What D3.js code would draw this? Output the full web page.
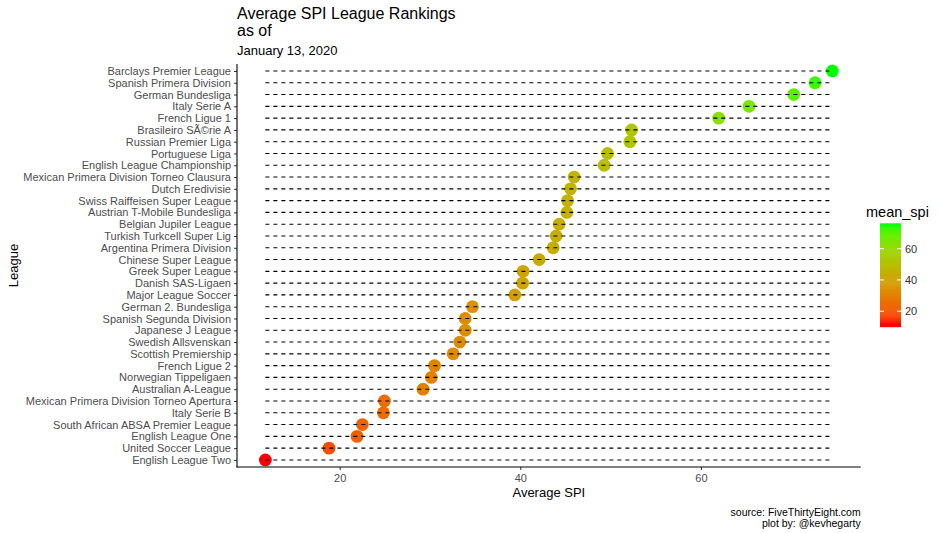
<!DOCTYPE html>
<html><head><meta charset="utf-8">
<script src="https://cdn.jsdelivr.net/npm/d3@7"></script>
<style>body{margin:0;background:#fff}svg{font-family:"Liberation Sans",Arial,sans-serif}</style>
</head><body><svg id="c" width="949" height="533"></svg>
<script>
const leagues = ["Barclays Premier League","Spanish Primera Division","German Bundesliga","Italy Serie A","French Ligue 1","Brasileiro SÃ©rie A","Russian Premier Liga","Portuguese Liga","English League Championship","Mexican Primera Division Torneo Clausura","Dutch Eredivisie","Swiss Raiffeisen Super League","Austrian T-Mobile Bundesliga","Belgian Jupiler League","Turkish Turkcell Super Lig","Argentina Primera Division","Chinese Super League","Greek Super League","Danish SAS-Ligaen","Major League Soccer","German 2. Bundesliga","Spanish Segunda Division","Japanese J League","Swedish Allsvenskan","Scottish Premiership","French Ligue 2","Norwegian Tippeligaen","Australian A-League","Mexican Primera Division Torneo Apertura","Italy Serie B","South African ABSA Premier League","English League One","United Soccer League","English League Two"];
const meanSpi = [74.55,72.63,70.27,65.32,61.96,52.32,52.13,49.66,49.29,45.96,45.56,45.23,45.15,44.30,43.97,43.64,42.09,40.31,40.25,39.39,34.70,33.89,33.90,33.30,32.56,30.50,30.15,29.23,24.95,24.84,22.51,21.92,18.82,11.77];
const xTicks = [20,40,60];
const legendTicks = [20,40,60];
const titleLines = ["Average SPI League Rankings","as of"];
const subtitle = "January 13, 2020";
const captionLines = ["source: FiveThirtyEight.com","plot by: @kevhegarty"];

const svg = d3.select("#c");
const P = {l:237, r:860.7, t:63.9, b:467};
const mn = d3.min(meanSpi), mx = d3.max(meanSpi), ex = (mx-mn)*0.05;
const x = d3.scaleLinear().domain([mn-ex, mx+ex]).range([P.l, P.r]);
const y = d3.scalePoint().domain(leagues).range([P.t, P.b]).padding(0.6);
const col = d3.scaleLinear().domain([mn, mx]).range(["#FF0000","#00FF00"]).interpolate(d3.interpolateLab).clamp(true);

// points
svg.append("g").selectAll("circle").data(leagues).join("circle")
  .attr("cx",(d,i)=>x(meanSpi[i])).attr("cy",d=>y(d)).attr("r",6.4)
  .attr("fill",(d,i)=>col(meanSpi[i]));
// dashed segments
svg.append("g").selectAll("line").data(leagues).join("line")
  .attr("x1",x(mn)).attr("x2",x(mx)).attr("y1",d=>y(d)).attr("y2",d=>y(d))
  .attr("stroke","#000").attr("stroke-width",1.1).attr("stroke-dasharray","4,4");

// axes
const gy = svg.append("g").attr("transform",`translate(${P.l},0)`)
  .call(d3.axisLeft(y).tickSize(3).tickPadding(3));
const gx = svg.append("g").attr("transform",`translate(0,${P.b})`)
  .call(d3.axisBottom(x).tickValues(xTicks).tickSize(3).tickPadding(4));
[gx,gy].forEach(g=>{
  g.select(".domain").remove();
  g.selectAll(".tick line").attr("stroke","#333");
  g.selectAll(".tick text").attr("fill","#4d4d4d").style("font-size","11px").style("font-family","Liberation Sans, Arial, sans-serif");
});
svg.append("line").attr("x1",P.l).attr("x2",P.l).attr("y1",P.t).attr("y2",P.b+0.5).attr("stroke","#000").attr("stroke-width",1.1);
svg.append("line").attr("x1",P.l-0.5).attr("x2",P.r).attr("y1",P.b).attr("y2",P.b).attr("stroke","#000").attr("stroke-width",1.1);

// axis titles
svg.append("text").attr("x",(P.l+P.r)/2).attr("y",497).attr("text-anchor","middle")
  .style("font-size","13px").text("Average SPI");
svg.append("text").attr("transform",`translate(18,${(P.t+P.b)/2}) rotate(-90)`).attr("text-anchor","middle")
  .style("font-size","13px").text("League");

// title
titleLines.forEach((t,i)=>svg.append("text").attr("x",P.l).attr("y",19+i*16.5).style("font-size","16px").text(t));
svg.append("text").attr("x",P.l).attr("y",55).style("font-size","13px").text(subtitle);

// caption
captionLines.forEach((t,i)=>svg.append("text").attr("x",P.r).attr("y",516+i*11.3).attr("text-anchor","end").style("font-size","10.5px").text(t));

// legend
const L = {x:880, w:21, top:223.3, bot:326.7};
const hb = (L.bot-L.top)/40;
const ly = d3.scaleLinear().domain([mn,mx]).range([L.bot-hb, L.top+hb]);
const nSlices = 100;
const lg = svg.append("g");
d3.range(nSlices).forEach(k=>{
  const y0 = L.top + (L.bot-L.top)*k/nSlices, y1 = L.top + (L.bot-L.top)*(k+1)/nSlices;
  lg.append("rect").attr("x",L.x).attr("y",y0).attr("width",L.w).attr("height",y1-y0+0.5)
    .attr("fill",col(ly.invert((y0+y1)/2)));
});
legendTicks.forEach(v=>{
  lg.append("line").attr("x1",L.x).attr("x2",L.x+4).attr("y1",ly(v)).attr("y2",ly(v)).attr("stroke","#fff");
  lg.append("line").attr("x1",L.x+L.w-4).attr("x2",L.x+L.w).attr("y1",ly(v)).attr("y2",ly(v)).attr("stroke","#fff");
  lg.append("text").attr("x",L.x+L.w+4).attr("y",ly(v)).attr("dy","0.35em").style("font-size","11px").attr("fill","#333").text(v);
});
lg.append("text").attr("x",866).attr("y",217).style("font-size","14.5px").text("mean_spi");
</script></body></html>
